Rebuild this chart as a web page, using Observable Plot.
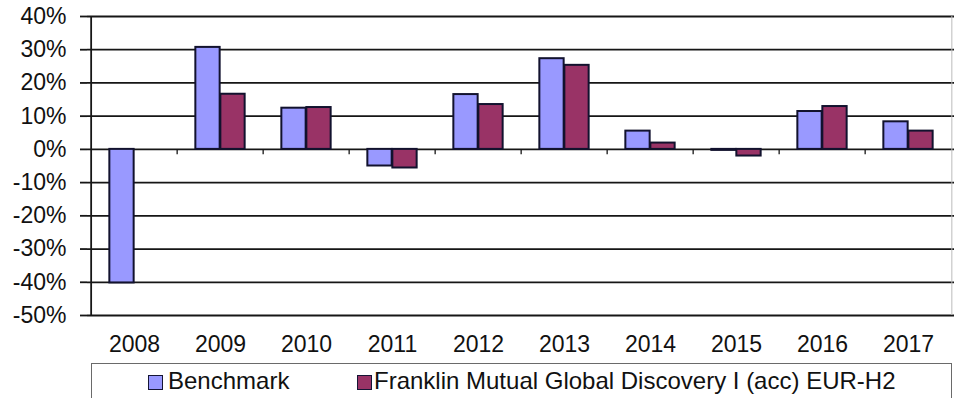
<!DOCTYPE html>
<html>
<head>
<meta charset="utf-8">
<script src="https://cdn.jsdelivr.net/npm/d3@7"></script>
<script src="https://cdn.jsdelivr.net/npm/@observablehq/plot@0.6"></script>
<style>
  html, body { margin: 0; padding: 0; background: #fff; }
  body { width: 955px; height: 398px; overflow: hidden; position: relative; font-family: "Liberation Sans", Arial, sans-serif; }
  #chart svg { display: block; }
  #legend { position: absolute; left: 91px; top: 363px; width: 861px; height: 45px; border: 1.5px solid #6a6a6a; box-sizing: border-box; }
  .sw { position: absolute; top: 11px; width: 15px; height: 15px; box-sizing: border-box; border: 1.8px solid #151535; }
  .lt { position: absolute; top: 5px; font-size: 24px; line-height: 24px; color: #111; white-space: nowrap; }
</style>
</head>
<body>
<div id="chart"></div>
<div id="legend"></div>
<script>
const years = ["2008","2009","2010","2011","2012","2013","2014","2015","2016","2017"];
const benchmark = [-40.2, 30.7, 12.4, -5.0, 16.5, 27.3, 5.5, -0.3, 11.4, 8.3];
const fund = [null, 16.6, 12.6, -5.6, 13.5, 25.3, 1.9, -2.0, 12.9, 5.5];
const yTicks = [40, 30, 20, 10, 0, -10, -20, -30, -40, -50];
const seriesNames = ["Benchmark", "Franklin Mutual Global Discovery I (acc) EUR-H2"];
const seriesColors = ["#9999ff", "#993366"];

const W = 955, H = 362, mL = 87, mR = 1, mT = 16, mB = 47;
const step = (W - mL - mR) / years.length;
const half = step / 2;
const barW = 25;

const bData = years.map((y, i) => ({year: y, value: benchmark[i]}));
const fData = years.map((y, i) => ({year: y, value: fund[i]})).filter(d => d.value != null);

const ink = "#161616";

const chart = Plot.plot({
  width: W, height: H,
  marginLeft: mL, marginRight: mR, marginTop: mT, marginBottom: mB,
  style: {fontFamily: "Liberation Sans, Arial, sans-serif", color: "#111", background: "#fff"},
  x: {domain: years, padding: 0, label: null},
  y: {domain: [-50, 40], label: null},
  marks: [
    Plot.ruleY(yTicks, {stroke: ink, strokeWidth: 1.8}),
    Plot.ruleX([years[years.length - 1]], {y1: -50, y2: 40, dx: half, stroke: "#bbb", strokeWidth: 1}),
    Plot.barY(bData, {x: "year", y1: 0, y2: "value", fill: seriesColors[0], stroke: "#12122e", strokeWidth: 2,
      insetLeft: half - barW, insetRight: half}),
    Plot.barY(fData, {x: "year", y1: 0, y2: "value", fill: seriesColors[1], stroke: "#12122e", strokeWidth: 2,
      insetLeft: half, insetRight: half - barW}),
    Plot.ruleX(years.slice(1), {y1: 0, y2: -1.6, dx: -half, stroke: ink, strokeWidth: 1.3}),
    Plot.ruleX([years[0]], {y1: -50, y2: 40, dx: -half, stroke: ink, strokeWidth: 1.8}),
    Plot.axisY(yTicks, {tickFormat: d => d + "%", tickSize: 7, tickPadding: 14, fontSize: 23, stroke: ink, strokeWidth: 1.8}),
    Plot.axisX({tickSize: 0, tickPadding: 20, fontSize: 23, label: null})
  ]
});
document.getElementById("chart").appendChild(chart);

const legend = document.getElementById("legend");
const pos = [{sw: 56, tx: 76}, {sw: 265, tx: 282}];
seriesNames.forEach((name, i) => {
  const s = document.createElement("div");
  s.className = "sw";
  s.style.left = pos[i].sw + "px";
  s.style.background = seriesColors[i];
  legend.appendChild(s);
  const t = document.createElement("div");
  t.className = "lt";
  t.style.left = pos[i].tx + "px";
  t.textContent = name;
  legend.appendChild(t);
});
</script>
</body>
</html>
